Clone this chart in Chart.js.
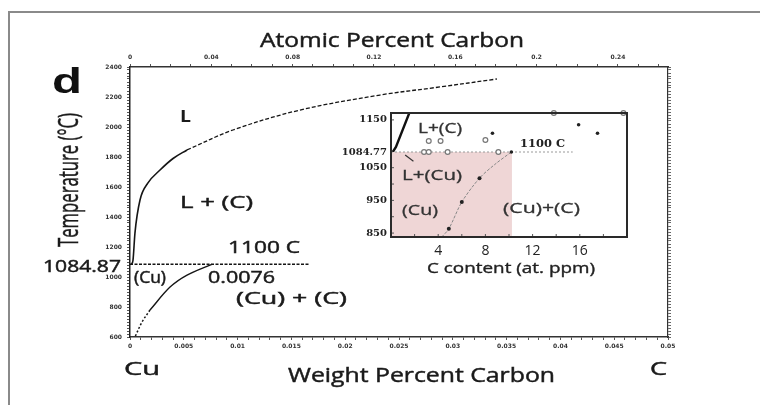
<!DOCTYPE html>
<html><head><meta charset="utf-8">
<script src="https://cdn.jsdelivr.net/npm/chart.js@4.4.0/dist/chart.umd.min.js"></script>
<style>
html,body{margin:0;padding:0;background:#fff;}
#wrap{position:relative;width:760px;height:405px;overflow:hidden;background:#fff;}
canvas{position:absolute;left:0;top:0;}
</style></head><body>
<div id="wrap"><canvas id="main" width="760" height="405"></canvas><canvas id="inset" width="760" height="405"></canvas></div>
<script>
// ---------------- data (main diagram: weight % C vs temperature °C) ----------------
const liquidusSolid = [[0.00014,1086],[0.00028,1113],[0.00046,1293],[0.00093,1513],[0.00167,1627],[0.00279,1713],[0.004,1790],[0.0053,1847]];
const liquidusDashed = [[0.0053,1847],[0.00957,1980],[0.0158,2113],[0.02323,2213],[0.0288,2267],[0.0341,2320]];
const eutecticLine = [[0,1084.87],[0.0167,1084.87]];
const solvusSolid = [[0.0076,1084.87],[0.0053,1013],[0.00372,933],[0.00186,780]];
const solvusDotted = [[0.00186,780],[0.00112,700],[0.00046,600]];

const weightTicks = [0,0.005,0.01,0.015,0.02,0.025,0.03,0.035,0.04,0.045,0.05];
const atomicTicks = [0,0.04,0.08,0.12,0.16,0.2,0.24];
const tempTicks = [600,800,1000,1200,1400,1600,1800,2000,2200,2400];

// ---------------- data (inset: at. ppm C vs temperature °C) ----------------
const insetLiquidus = [[0.15,1084.77],[0.42,1095],[1.55,1164]];
const insetShortSeg = [[1.2,1089],[1.9,1070]];
const insetEutectic = [[0,1084.77],[15.4,1084.77]];
const insetSolvus = [[4.3,838],[4.9,863],[6.0,945],[7.5,1018],[8.8,1060],[10.2,1098]];
const insetOpenUpper = [[2.8,1084.77],[3.2,1084.77],[4.8,1084.77],[9.1,1084.77],[3.2,1107],[4.2,1107],[8.0,1109],[13.8,1164],[19.7,1164]];
const insetFilledUpper = [[8.6,1123],[15.9,1140],[17.5,1123],[10.2,1084.77]];
const insetFilledLower = [[4.9,863],[6.0,945],[7.5,1018]];
const insetPink = [[0,1098],[10.25,1098]];

const insetXTicks = [4,8,12,16];
const insetUpperTicks = [1084.77,1150];
const insetLowerTicks = [850,950,1050];

// ---------------- helpers ----------------
const pts = a => a.map(p => ({x:p[0], y:p[1]}));
function steps(a,b,s){const r=[];const n=Math.round((b-a)/s);for(let i=0;i<=n;i++)r.push(Math.round((a+i*s)*1e6)/1e6);return r;}
function labelFrom(list){return v=>{const t=list.find(t=>Math.abs(t-v)<1e-9);return t===undefined?'':String(t);};}
function boxText(ctx,txt,l,r,top,base,o={}){
  const fam=o.family||"'Open Sans'", wt=o.weight||'normal', cap=o.cap||0.714;
  const size=(base-top)/cap;
  ctx.save();
  ctx.font=`${wt} ${size}px ${fam}`;
  ctx.fillStyle=o.color||'#1a1a1a';
  ctx.strokeStyle=o.color||'#1a1a1a';
  ctx.textBaseline='alphabetic';ctx.textAlign='left';
  const w=ctx.measureText(txt).width;
  ctx.translate(l,base);ctx.scale((r-l)/w,1);ctx.fillText(txt,0,0);
  const sw=o.stroke===undefined?0.45:o.stroke;
  if(sw>0){ctx.lineWidth=sw;ctx.strokeText(txt,0,0);}
  ctx.restore();
}
function rotText(ctx,txt,baseX,capX,yStart,yEnd,o={}){
  const fam=o.family||"'Open Sans'", cap=o.cap||0.714;
  const size=(baseX-capX)/cap;
  ctx.save();
  ctx.font=`normal ${size}px ${fam}`;
  ctx.fillStyle=o.color||'#1a1a1a';
  ctx.strokeStyle=o.color||'#1a1a1a';
  ctx.textBaseline='alphabetic';ctx.textAlign='left';
  const w=ctx.measureText(txt).width;
  ctx.translate(baseX,yStart);ctx.rotate(-Math.PI/2);ctx.scale((yStart-yEnd)/w,1);ctx.fillText(txt,0,0);
  ctx.lineWidth=0.5;ctx.strokeText(txt,0,0);
  ctx.restore();
}

// ---------------- main chart ----------------
const tickFont={family:'DejaVu Sans',size:6,weight:'bold'};
const lineDs=(data,o)=>Object.assign({data:pts(data),showLine:true,pointRadius:0,borderColor:'#151515',borderWidth:1.5,tension:0.35,fill:false},o);

const mainDeco={
  id:'mainDeco',
  beforeDraw(c){const x=c.ctx;x.save();x.fillStyle='#fff';x.fillRect(0,0,c.width,c.height);x.restore();},
  afterDraw(c){
    const x=c.ctx;
    x.save();x.strokeStyle='#8a8a8a';x.lineWidth=2;
    x.beginPath();x.moveTo(9,405);x.lineTo(9,12);x.lineTo(760,12);x.stroke();x.restore();
    boxText(x,'Atomic Percent Carbon',260,524,33,47);
    boxText(x,'Weight Percent Carbon',288,555,368,382);
    boxText(x,'Cu',124,160,362,375);
    boxText(x,'C',650,667,362,375);
    boxText(x,'d',52,82,68,93,{family:"'Liberation Sans'",weight:'bold',cap:0.73,color:'#111',stroke:0});
    rotText(x,'Temperature (°C)',78,59,247,113);
    boxText(x,'L',180,191,111,122,{weight:'bold',stroke:0});
    boxText(x,'L + (C)',180,253,196,208);
    boxText(x,'1100 C',228,300,242,253);
    boxText(x,'1084.87',43,121,261,272);
    boxText(x,'(Cu)',134,166,272,283);
    boxText(x,'0.0076',208,275,272,283);
    boxText(x,'(Cu) + (C)',236,347,292,304);
  }
};

new Chart(document.getElementById('main'),{
  type:'scatter',
  data:{datasets:[
    lineDs(liquidusSolid,{borderWidth:1.6,cubicInterpolationMode:'monotone'}),
    lineDs(liquidusDashed,{borderWidth:1.3,borderDash:[4,2]}),
    lineDs(eutecticLine,{borderWidth:1.6,borderDash:[3,1.5],tension:0}),
    lineDs(solvusSolid,{borderWidth:1.4}),
    lineDs(solvusDotted,{borderWidth:1.5,borderDash:[2,2]})
  ]},
  options:{
    responsive:false,animation:false,devicePixelRatio:1,
    layout:{padding:0},
    plugins:{legend:{display:false},tooltip:{enabled:false}},
    scales:{
      x:{type:'linear',position:'bottom',min:0,max:0.05,
        afterBuildTicks:s=>{s.ticks=steps(0,0.05,0.001).map(v=>({value:v}));},
        ticks:{autoSkip:false,maxRotation:0,padding:3,font:tickFont,color:'#333',callback:labelFrom(weightTicks)},
        grid:{drawOnChartArea:false,tickLength:3,color:'#555'},
        border:{display:true,dash:[2,2],color:'#333',width:1.5},
        afterFit:s=>{s.height=68;}},
      x2:{type:'linear',position:'top',min:0,max:0.2646,
        afterBuildTicks:s=>{s.ticks=steps(0,0.26,0.01).map(v=>({value:v}));},
        ticks:{autoSkip:false,maxRotation:0,padding:3,font:tickFont,color:'#333',callback:labelFrom(atomicTicks)},
        grid:{drawOnChartArea:false,tickLength:3,color:'#555'},
        border:{display:true,dash:[2,2],color:'#333',width:1.5},
        afterFit:s=>{s.height=67;}},
      y:{type:'linear',position:'left',min:600,max:2400,
        afterBuildTicks:s=>{s.ticks=steps(600,2400,20).map(v=>({value:v}));},
        ticks:{autoSkip:false,padding:5,font:tickFont,color:'#333',callback:labelFrom(tempTicks)},
        grid:{drawOnChartArea:false,tickLength:3,color:'#555'},
        border:{display:true,color:'#222',width:1.5},
        afterFit:s=>{s.width=130;}},
      y2:{type:'linear',position:'right',min:600,max:2400,
        afterBuildTicks:s=>{s.ticks=steps(600,2400,20).map(v=>({value:v}));},
        ticks:{display:false},
        grid:{drawOnChartArea:false,tickLength:3,color:'#666'},
        border:{display:true,color:'#333',width:1.2},
        afterFit:s=>{s.width=92;}}
    }
  },
  plugins:[mainDeco]
});

// ---------------- inset chart ----------------
const insetDeco={
  id:'insetDeco',
  beforeDatasetsDraw(c){const a=c.chartArea,x=c.ctx;x.save();x.fillStyle='#fff';x.fillRect(a.left,a.top,a.right-a.left,a.bottom-a.top);x.restore();},
  afterDatasetsDraw(c){
    const a=c.chartArea,x=c.ctx,sx=c.scales.x,yU=c.scales.yU,yL=c.scales.yL;
    x.save();
    x.strokeStyle='#555';x.lineWidth=1;
    x.beginPath();
    steps(2,18,2).forEach(v=>{const p=sx.getPixelForValue(v);x.moveTo(p,a.bottom);x.lineTo(p,a.bottom-3);});
    [850,900,950,1000,1050].forEach(v=>{const p=yL.getPixelForValue(v);x.moveTo(a.left,p);x.lineTo(a.left+3,p);});
    [1150].forEach(v=>{const p=yU.getPixelForValue(v);x.moveTo(a.left,p);x.lineTo(a.left+3,p);});
    x.stroke();
    x.strokeStyle='#2a2a2a';x.lineWidth=2;
    x.strokeRect(a.left,a.top,a.right-a.left,a.bottom-a.top);
    x.restore();
  },
  afterDraw(c){
    const x=c.ctx;
    const col='#333';
    boxText(x,'L+(C)',418,462,123,133,{color:col,stroke:0.3});
    boxText(x,'1100 C',520,565,139,147,{family:"'DejaVu Serif'",weight:'bold',cap:0.73,color:'#222',stroke:0});
    boxText(x,'L+(Cu)',402,462,170,180,{color:col,stroke:0.3});
    boxText(x,'(Cu)',402,438,205,215,{color:col,stroke:0.3});
    boxText(x,'(Cu)+(C)',503,580,203,213,{color:col,stroke:0.3});
    boxText(x,'C content (at. ppm)',427,595,263,273,{color:'#222',stroke:0.35});
  }
};
const insetLine=(data,axis,o)=>Object.assign({data:pts(data),yAxisID:axis,showLine:true,pointRadius:0,borderColor:'#222',borderWidth:1,tension:0,fill:false},o);
const insetPts=(data,axis,o)=>Object.assign({data:pts(data),yAxisID:axis,showLine:false,pointRadius:2,clip:false},o);
const insetTickFont={family:'DejaVu Serif',size:10,weight:'bold'};

new Chart(document.getElementById('inset'),{
  type:'scatter',
  data:{datasets:[
    insetPts(insetFilledUpper,'yU',{pointRadius:1.8,backgroundColor:'#222',borderColor:'#222',borderWidth:0}),
    insetPts(insetFilledLower,'yL',{pointRadius:2,backgroundColor:'#222',borderColor:'#222',borderWidth:0}),
    insetPts(insetOpenUpper,'yU',{pointRadius:2.4,backgroundColor:'#fff',borderColor:'#777',borderWidth:1.2}),
    insetLine(insetLiquidus,'yU',{borderWidth:2.4,borderColor:'#111'}),
    insetLine(insetShortSeg,'yL',{borderWidth:1.2,borderColor:'#333'}),
    insetLine(insetEutectic,'yU',{borderWidth:1,borderColor:'#999',borderDash:[2,2],clip:false}),
    insetLine(insetSolvus,'yL',{borderWidth:1,borderColor:'#888',borderDash:[3,1.5],tension:0.3}),
    insetLine(insetPink,'yL',{borderWidth:0,borderColor:'rgba(0,0,0,0)',backgroundColor:'#efd6d6',fill:'start',order:10})
  ]},
  options:{
    responsive:false,animation:false,devicePixelRatio:1,
    layout:{padding:{left:330,top:113,right:133,bottom:120}},
    plugins:{legend:{display:false},tooltip:{enabled:false}},
    scales:{
      x:{type:'linear',position:'bottom',min:0,max:20,
        afterBuildTicks:s=>{s.ticks=steps(0,20,2).map(v=>({value:v}));},
        ticks:{autoSkip:false,maxRotation:0,padding:6,font:{family:'Open Sans',size:14},color:'#222',callback:labelFrom(insetXTicks)},
        grid:{display:false,drawTicks:false},border:{display:false},
        afterFit:s=>{s.height=48;}},
      yL:{type:'linear',position:'left',stack:'ins',stackWeight:85,min:838,max:1098,offset:false,
        afterBuildTicks:s=>{s.ticks=insetLowerTicks.map(v=>({value:v}));},
        ticks:{autoSkip:false,padding:4,font:insetTickFont,color:'#222',callback:v=>String(v)},
        grid:{display:false,drawTicks:false},border:{display:false},
        afterFit:s=>{s.width=61;}},
      yU:{type:'linear',position:'left',stack:'ins',stackWeight:39,min:1084.77,max:1164,offset:false,
        afterBuildTicks:s=>{s.ticks=insetUpperTicks.map(v=>({value:v}));},
        ticks:{autoSkip:false,padding:4,font:insetTickFont,color:'#222',callback:v=>String(v)},
        grid:{display:false,drawTicks:false},border:{display:false},
        afterFit:s=>{s.width=61;}}
    }
  },
  plugins:[insetDeco]
});
</script>
</body></html>
